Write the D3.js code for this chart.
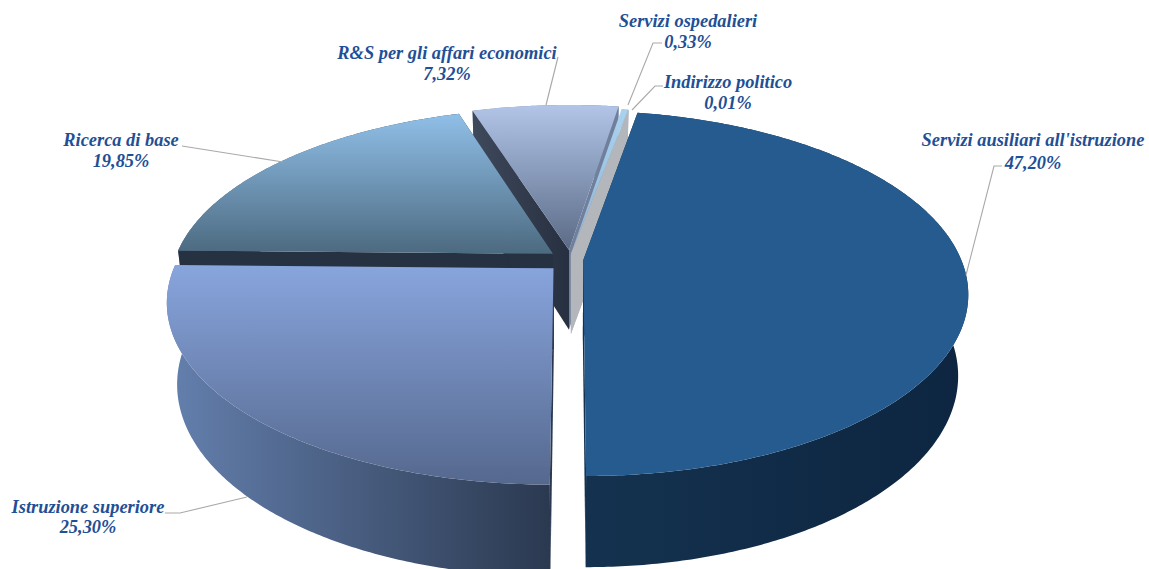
<!DOCTYPE html>
<html><head><meta charset="utf-8">
<script src="https://cdn.jsdelivr.net/npm/d3@7"></script>
<style>html,body{margin:0;padding:0;background:#fff;overflow:hidden}svg{display:block}
text{font-family:"Liberation Serif",serif;font-weight:bold;font-style:italic;font-size:18.4px;fill:#1f4f96;text-anchor:middle}</style>
</head><body><svg id="c" width="1149" height="569"></svg>
<script>
const categories=["Servizi ausiliari all'istruzione","Istruzione superiore","Ricerca di base","R&S per gli affari economici","Servizi ospedalieri","Indirizzo politico"];
const percentLabels=["47,20%","25,30%","19,85%","7,32%","0,33%","0,01%"];
const values=[47.20,25.30,19.85,7.32,0.33,0.01];

// layout / styling (not data)
const explodeU=[.037,-.04,-.042,0,.005,.005];
const explodeV=[.035,.08,-.001,-.023,0,0];
const radiusU=[.985,.981,.9865,.99,1.012,1.012];
const radiusV=[.985,.972,.97,.972,.972,.972];
const topColors=[["#255b8f","#255b8f"],["#88a5dd","#55688e"],["#90bfe8","#4c6a80"],["#b2c5e8","#5a6a86"],["#aad2ee","#8fb4d2"],["#aad2ee","#8fb4d2"]];
const wallColors=[["#14324f","#0d2540"],["#6480ae","#2b3950"],["#5f7a98","#2b3950"],["#8a96ac","#6a7a96"],["#8a96ac","#6a7a96"],["#8a96ac","#6a7a96"]];
const startWall=["#14324f","#2b3950","#263141",null,null,null];
const startWallTop=["#14324f","#2b3950","#263141","#3f495c",null,null];
const endWall=["#14324f","#2b3950","#263141","#6f7f9c","#b3b6bb","#b3b6bb"];
const paintOrder=[3,2,4,5,0,1];
const labelLayout=[
 {x:1033,y:[146,169],leader:[[966,275],[994,166],[1002,166]]},
 {x:88,y:[513,533],leader:[[165,513],[180,513],[247,497]]},
 {x:121,y:[146,167],leader:[[182,146],[283,162]]},
 {x:447,y:[59,80],leader:[[558,57],[546,105]]},
 {x:688,y:[27,48],leader:[[628,105],[653,43],[662,43]]},
 {x:728,y:[88,109],leader:[[632,110],[655,86],[663,86]]}
];

// perspective projection of the disc
const ox=569,oy=254,f=381.5,g=177,h=82,k=.183,m=.025;
const project=(u,v,z)=>{const w=1-k*v+m*z;return [ox+f*u/w,oy+(g*v+h*z)/w];};

const start=10.13*Math.PI/180;
const pie=d3.pie().sort(null).startAngle(start).endAngle(start+2*Math.PI);
const arcs=pie(values);
const svg=d3.select("#c"),defs=svg.append("defs");
const line=d3.line();

function grad(id,c,vertical){
  const l=defs.append("linearGradient").attr("id",id).attr("x1",0).attr("y1",0)
    .attr("x2",vertical?0:1).attr("y2",vertical?1:0);
  l.append("stop").attr("offset",0).attr("stop-color",c[0]);
  l.append("stop").attr("offset",1).attr("stop-color",c[1]);
  return `url(#${id})`;
}
paintOrder.forEach(i=>{
  const a=arcs[i],pt=(t,s,z)=>project(explodeU[i]+s*radiusU[i]*Math.sin(t),explodeV[i]-s*radiusV[i]*Math.cos(t),z);
  const n=Math.max(2,Math.ceil((a.endAngle-a.startAngle)/.01));
  const ts=d3.range(n+1).map(j=>a.startAngle+(a.endAngle-a.startAngle)*j/n);
  const g0=svg.append("g").attr("class","slice");
  // outer wall
  const outer=ts.map(t=>pt(t,1,0)).concat(ts.slice().reverse().map(t=>pt(t,1,1)));
  g0.append("path").attr("d",line(outer)+"Z").attr("fill",grad("w"+i,wallColors[i],false));
  // cut-face walls
  if(startWall[i]||startWallTop[i]){
    const p=[pt(a.startAngle,1,0),pt(a.startAngle,0,0),pt(a.startAngle,0,1),pt(a.startAngle,1,1)];
    const c0=startWallTop[i],c1=startWall[i]||"#263040";
    g0.append("path").attr("d",line(p)+"Z").attr("fill",grad("s"+i,[c0,c1],false));
  }
  const pe=[pt(a.endAngle,1,0),pt(a.endAngle,0,0),pt(a.endAngle,0,1),pt(a.endAngle,1,1)];
  g0.append("path").attr("d",line(pe)+"Z").attr("fill",endWall[i]);
  // top face
  const top=ts.map(t=>pt(t,1,0)).concat([pt(0,0,0)]);
  g0.append("path").attr("d",line(top)+"Z").attr("fill",grad("t"+i,topColors[i],true));
});
// leaders and labels
categories.forEach((c,i)=>{
  const L=labelLayout[i];
  svg.append("path").attr("d",line(L.leader)).attr("fill","none").attr("stroke","#a9a9a9").attr("stroke-width",1.1);
  svg.append("text").attr("x",L.x).attr("y",L.y[0]).text(c);
  svg.append("text").attr("x",L.x).attr("y",L.y[1]).text(percentLabels[i]);
});
</script></body></html>
